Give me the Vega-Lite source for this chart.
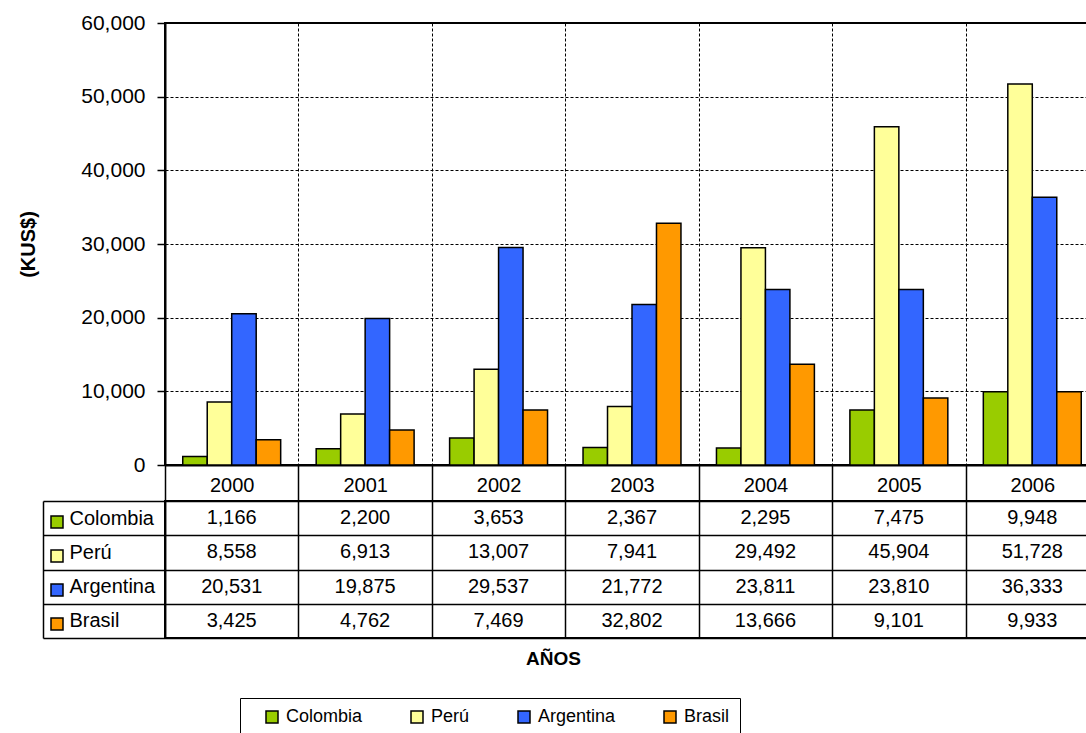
{
  "$schema": "https://vega.github.io/schema/vega-lite/v6.json",
  "padding": {"left": 17, "top": 11, "right": 0, "bottom": 0},
  "background": "white",
  "config": {
    "font": "Liberation Sans",
    "view": {"stroke": "black", "strokeWidth": 2},
    "axis": {"labelFont": "Liberation Sans", "titleFont": "Liberation Sans", "labelColor": "black", "titleColor": "black"},
    "legend": {"labelFont": "Liberation Sans", "labelColor": "black"}
  },
  "datasets": {
    "exports": [
      {"year": "2000", "country": "Colombia", "value": 1166},
      {"year": "2000", "country": "Perú", "value": 8558},
      {"year": "2000", "country": "Argentina", "value": 20531},
      {"year": "2000", "country": "Brasil", "value": 3425},
      {"year": "2001", "country": "Colombia", "value": 2200},
      {"year": "2001", "country": "Perú", "value": 6913},
      {"year": "2001", "country": "Argentina", "value": 19875},
      {"year": "2001", "country": "Brasil", "value": 4762},
      {"year": "2002", "country": "Colombia", "value": 3653},
      {"year": "2002", "country": "Perú", "value": 13007},
      {"year": "2002", "country": "Argentina", "value": 29537},
      {"year": "2002", "country": "Brasil", "value": 7469},
      {"year": "2003", "country": "Colombia", "value": 2367},
      {"year": "2003", "country": "Perú", "value": 7941},
      {"year": "2003", "country": "Argentina", "value": 21772},
      {"year": "2003", "country": "Brasil", "value": 32802},
      {"year": "2004", "country": "Colombia", "value": 2295},
      {"year": "2004", "country": "Perú", "value": 29492},
      {"year": "2004", "country": "Argentina", "value": 23811},
      {"year": "2004", "country": "Brasil", "value": 13666},
      {"year": "2005", "country": "Colombia", "value": 7475},
      {"year": "2005", "country": "Perú", "value": 45904},
      {"year": "2005", "country": "Argentina", "value": 23810},
      {"year": "2005", "country": "Brasil", "value": 9101},
      {"year": "2006", "country": "Colombia", "value": 9948},
      {"year": "2006", "country": "Perú", "value": 51728},
      {"year": "2006", "country": "Argentina", "value": 36333},
      {"year": "2006", "country": "Brasil", "value": 9933}
    ]
  },
  "data": {"name": "exports"},
  "bounds": "flush",
  "spacing": 36,
  "vconcat": [
    {
      "width": 934,
      "height": 442,
      "mark": {"type": "bar", "stroke": "black", "strokeWidth": 1.5},
      "encoding": {
        "x": {
          "field": "year", "type": "nominal",
          "scale": {"paddingInner": 0, "paddingOuter": 0},
          "axis": {
            "title": null, "labelAngle": 0, "labelFontSize": 20, "labelPadding": -26,
            "tickSize": 36, "tickBand": "extent", "tickColor": "black", "tickWidth": 1.5,
            "domainColor": "black", "domainWidth": 2,
            "grid": true, "gridColor": "black", "gridDash": [3, 2], "gridWidth": 1
          }
        },
        "xOffset": {
          "field": "country", "type": "nominal",
          "scale": {"domain": ["Colombia", "Perú", "Argentina", "Brasil"], "paddingInner": 0, "paddingOuter": 0.725}
        },
        "y": {
          "field": "value", "type": "quantitative",
          "scale": {"domain": [0, 60000], "nice": false},
          "axis": {
            "title": "(KUS$)", "titleFontSize": 20, "titleFontWeight": "bold", "titlePadding": 42,
            "values": [0, 10000, 20000, 30000, 40000, 50000, 60000], "format": ",d",
            "labelFontSize": 21, "labelPadding": 12,
            "tickSize": 8, "tickColor": "black", "tickWidth": 1.5,
            "domainColor": "black", "domainWidth": 2,
            "grid": true, "gridColor": "black", "gridDash": [3, 2], "gridWidth": 1
          }
        },
        "color": {
          "field": "country", "type": "nominal",
          "scale": {"domain": ["Colombia", "Perú", "Argentina", "Brasil"], "range": ["#99CC00", "#FFFF99", "#3366FF", "#FF9900"]},
          "legend": {
            "orient": "none", "legendX": 75, "legendY": 675, "direction": "horizontal",
            "title": " ", "titleOrient": "left", "titlePadding": 13, "titleFontSize": 8,
            "symbolType": "square", "symbolSize": 144, "symbolStrokeColor": "black", "symbolStrokeWidth": 1.5, "symbolOpacity": 1,
            "labelFontSize": 18, "labelOffset": 5, "columnPadding": 45,
            "strokeColor": "black", "fillColor": "white", "padding": 10
          }
        }
      }
    },
    {
      "width": 934,
      "height": 137,
      "layer": [
        {
          "mark": {"type": "text", "fontSize": 20, "color": "black"},
          "encoding": {
            "x": {
              "field": "year", "type": "nominal",
              "axis": {
                "title": "AÑOS", "titleFontSize": 19, "titleFontWeight": "bold", "titleX": 388, "titlePadding": 11,
                "labels": false, "ticks": false, "domain": false,
                "grid": true, "gridColor": "black", "gridWidth": 1.5, "tickBand": "extent"
              }
            },
            "y": {
              "field": "country", "type": "nominal",
              "scale": {"domain": ["Colombia", "Perú", "Argentina", "Brasil"], "paddingInner": 0, "paddingOuter": 0},
              "axis": {
                "title": null, "labelAlign": "left", "labelPadding": -26, "labelFontSize": 20,
                "tickSize": 122, "tickBand": "extent", "tickColor": "black", "tickWidth": 1.5,
                "domainColor": "black", "domainWidth": 1.5,
                "grid": true, "gridColor": "black", "gridWidth": 1.5
              }
            },
            "text": {"field": "value", "type": "quantitative", "format": ",d"}
          }
        },
        {
          "mark": {"type": "point", "shape": "square", "filled": true, "opacity": 0},
          "encoding": {
            "x": {"field": "year", "type": "nominal"},
            "y": {
              "field": "country", "type": "nominal",
              "axis": {"orient": "left", "offset": 122, "title": null, "labels": false, "ticks": false, "grid": false, "domainColor": "black", "domainWidth": 1.5}
            },
            "fill": {
              "field": "country", "type": "nominal",
              "scale": {"domain": ["Colombia", "Perú", "Argentina", "Brasil"], "range": ["#99CC00", "#FFFF99", "#3366FF", "#FF9900"]},
              "legend": {
                "orient": "none", "legendX": -115, "legendY": 14, "direction": "vertical", "title": null,
                "symbolType": "square", "symbolSize": 144, "symbolStrokeColor": "black", "symbolStrokeWidth": 1.5, "symbolOpacity": 1,
                "labelExpr": "''", "labelFontSize": 1, "rowPadding": 16, "padding": 0
              }
            }
          }
        }
      ],
      "resolve": {"axis": {"y": "independent"}}
    }
  ],
  "resolve": {
    "scale": {"y": "independent", "color": "independent", "fill": "independent"},
    "legend": {"color": "independent", "fill": "independent"}
  }
}
